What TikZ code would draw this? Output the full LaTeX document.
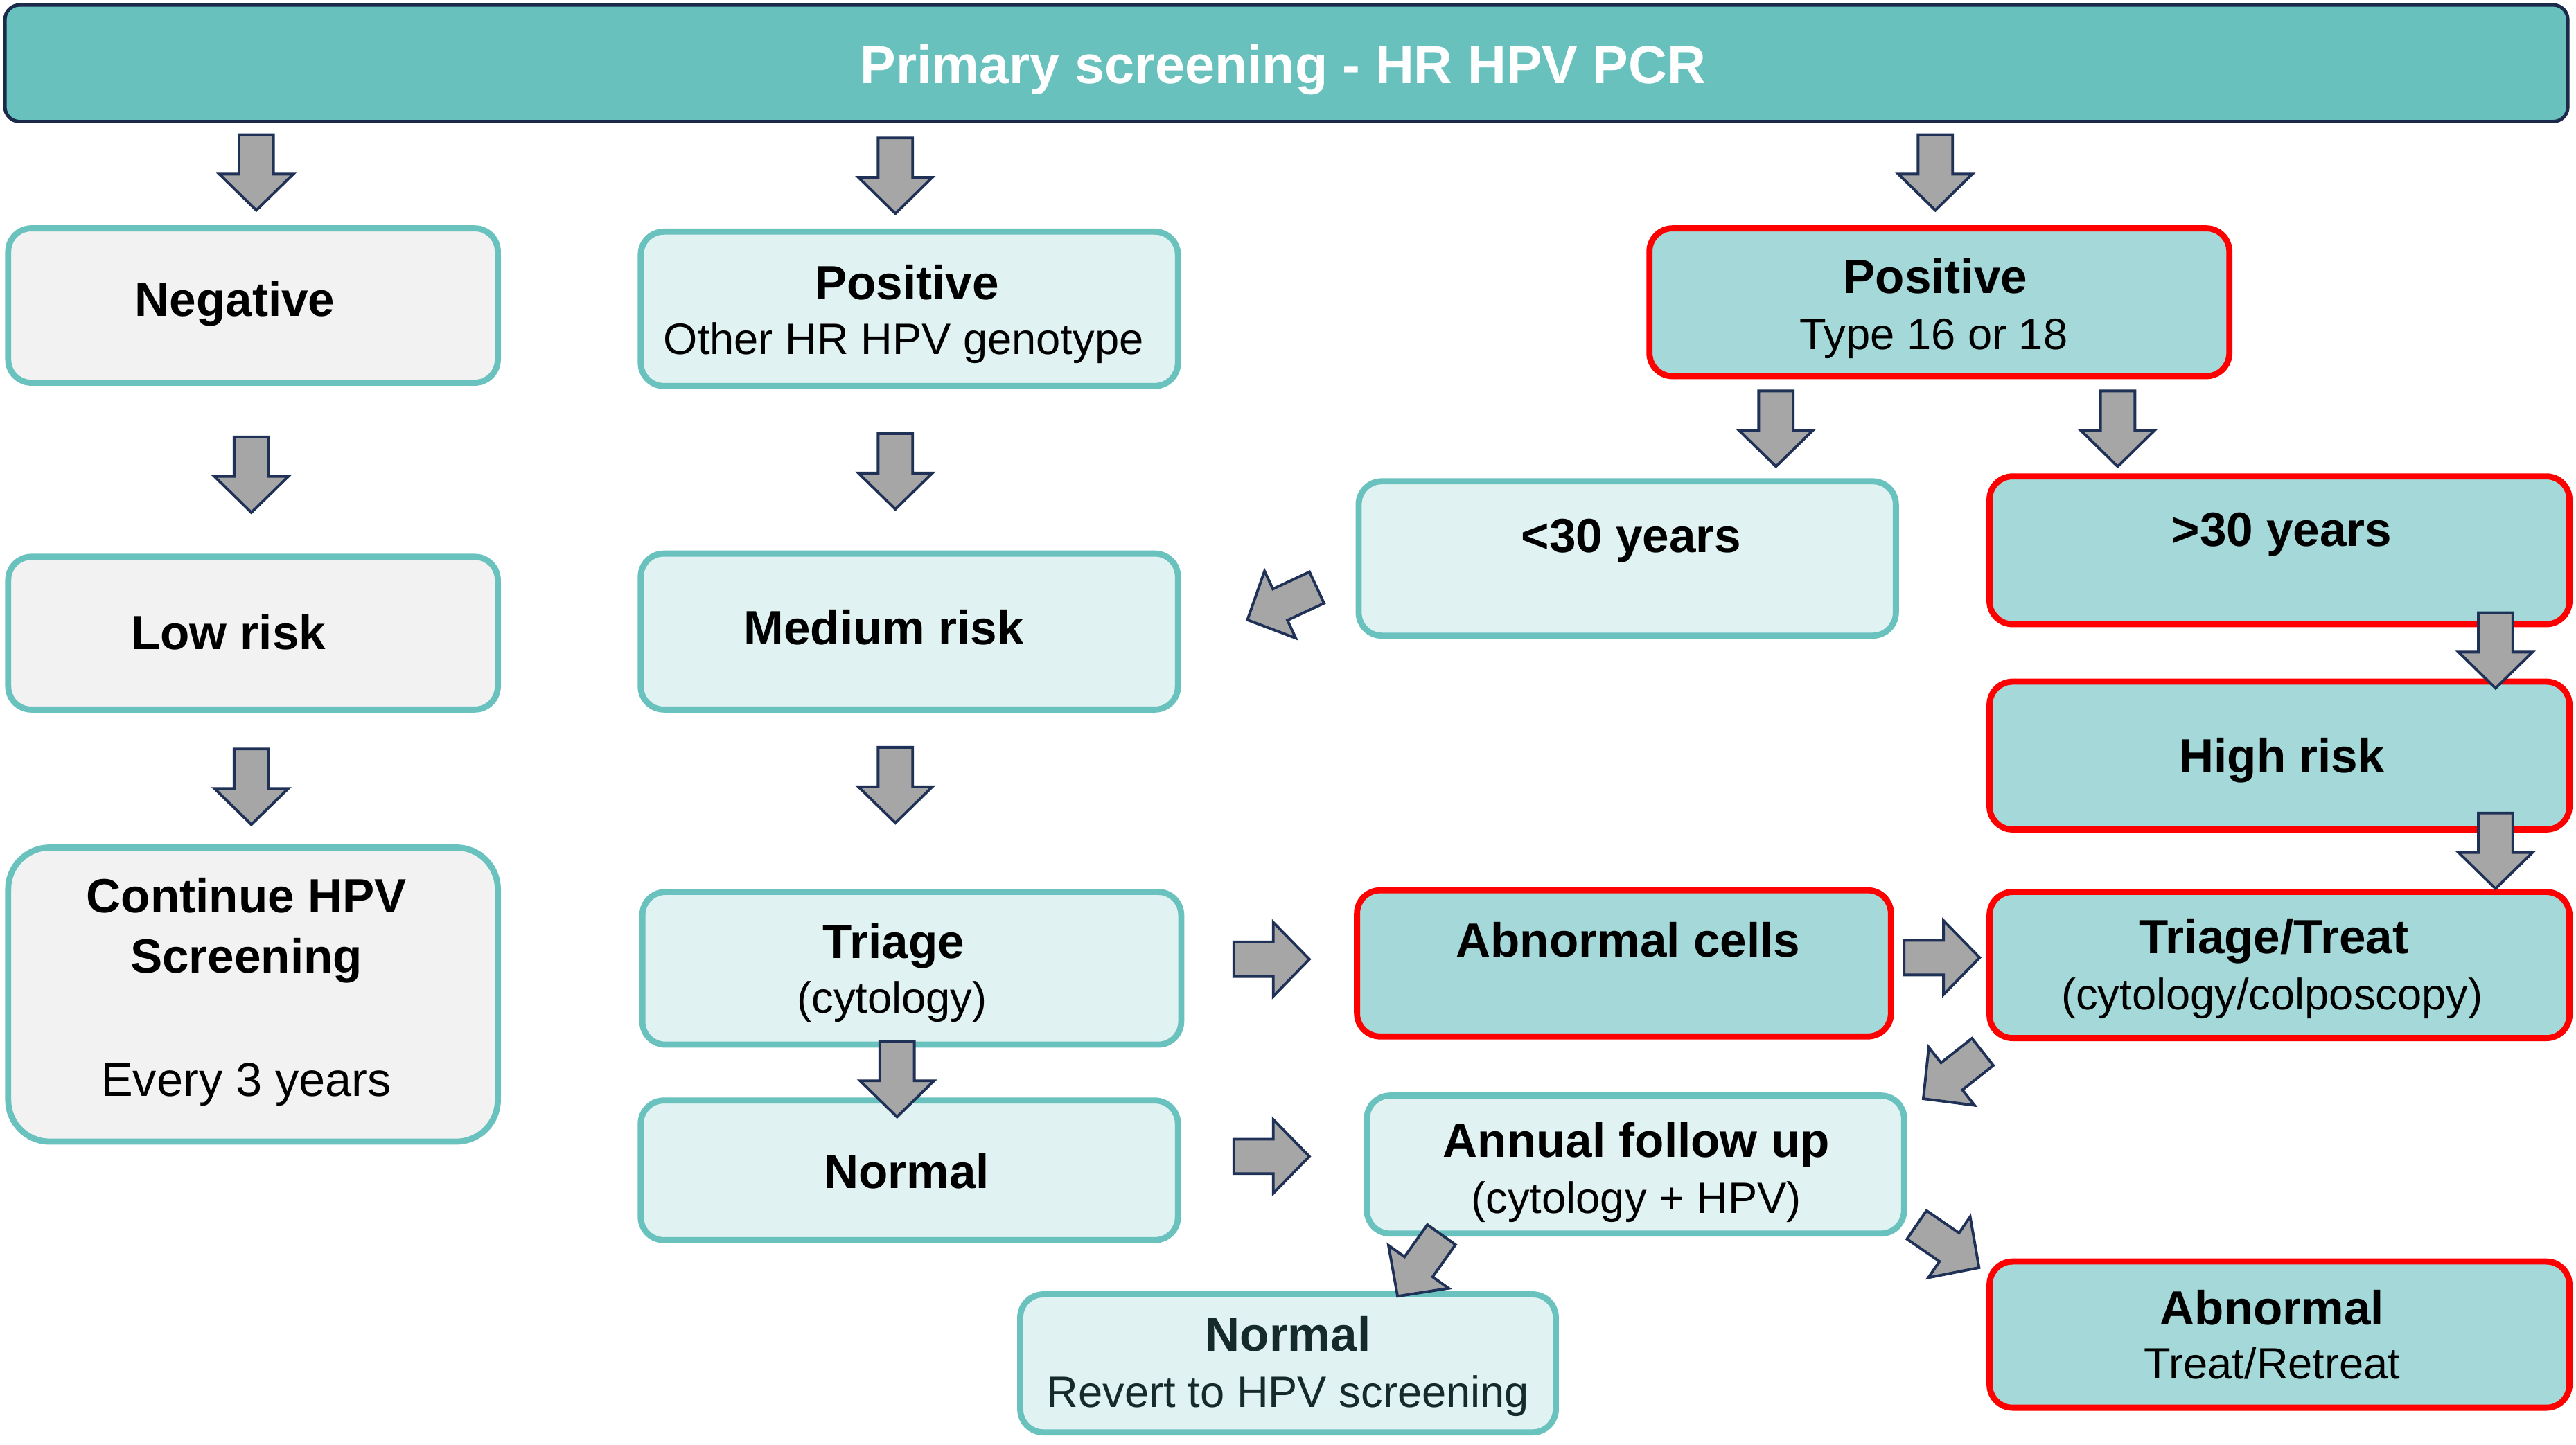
\documentclass[tikz,border=0pt]{standalone}
\usepackage{fontspec}
\setmainfont{Liberation Sans}
\usetikzlibrary{fit}
\definecolor{teal1}{HTML}{6AC2BF}
\definecolor{titlefill}{HTML}{69C1BE}
\definecolor{navy}{HTML}{1B2A4A}
\definecolor{grayfill}{HTML}{F2F2F2}
\definecolor{lightfill}{HTML}{E0F2F1}
\definecolor{midfill}{HTML}{A5D9D9}
\definecolor{redb}{HTML}{FF0000}
\definecolor{arrowfill}{HTML}{A6A6A6}
\definecolor{arrowline}{HTML}{1F3156}
\definecolor{darktext}{HTML}{152A2A}
\begin{document}
\begin{tikzpicture}[x=0.2371mm, y=-0.2371mm,
 boxbase/.style={inner sep=0pt, line width=2.5pt, rounded corners=9.5pt},
 graybox/.style={boxbase, draw=teal1, fill=grayfill},
 lightbox/.style={boxbase, draw=teal1, fill=lightfill},
 redbox/.style={boxbase, draw=redb, fill=midfill},
 titlebox/.style={inner sep=0pt, line width=1.4pt, draw=navy, fill=titlefill, rounded corners=6pt},
 bt/.style={inner sep=0pt, font=\fontsize{19.7pt}{23pt}\selectfont\bfseries, text height=14.1pt, text depth=0pt},
 rt/.style={inner sep=0pt, font=\fontsize{18pt}{22pt}\selectfont, text height=12.9pt, text depth=0pt},
 arrowsty/.style={fill=arrowfill, draw=arrowline, line width=1.1pt, line join=miter},
 pics/barrow/.style={code={\draw[arrowsty] (0,-10.5) -- (#1-22,-10.5) -- (#1-22,-22.5) -- (#1,0) -- (#1-22,22.5) -- (#1-22,10.5) -- (0,10.5) -- cycle;}}
]
\useasboundingbox (0,0) rectangle (1568,879.7);
\fill[white] (0,0) rectangle (1568,879.7);

% boxes
\node[titlebox, fit={(3,3) (1563,74)}] (title) {};
\node[graybox, fit={(5,139) (303,233)}] (neg) {};
\node[graybox, fit={(5,339) (303,432)}] (low) {};
\node[graybox, rounded corners=17pt, fit={(5,516) (303,695)}] (cont) {};
\node[lightbox, fit={(390,141) (717,235)}] (pos1) {};
\node[lightbox, fit={(390,337) (717,432)}] (med) {};
\node[lightbox, fit={(391,543) (719,636)}] (tri) {};
\node[lightbox, fit={(390,670) (717,755)}] (norm1) {};
\node[redbox, fit={(1004,139) (1357,229)}] (pos2) {};
\node[lightbox, fit={(827,293) (1154,387)}] (lt30) {};
\node[redbox, fit={(1211,290) (1564,380)}] (gt30) {};
\node[redbox, fit={(1211,415) (1564,505)}] (high) {};
\node[redbox, fit={(826,542) (1151,631)}] (abn) {};
\node[redbox, fit={(1211,543) (1564,632)}] (tt) {};
\node[lightbox, fit={(832,667) (1159,751)}] (ann) {};
\node[lightbox, fit={(621,788) (947,872)}] (norm2) {};
\node[redbox, fit={(1211,768) (1564,857)}] (abn2) {};

% arrows
\pic[rotate=-90] at (156,82) {barrow=46};
\pic[rotate=-90] at (545,84) {barrow=46};
\pic[rotate=-90] at (1178,82) {barrow=46};
\pic[rotate=-90] at (153,266) {barrow=46};
\pic[rotate=-90] at (545,264) {barrow=46};
\pic[rotate=-90] at (153,456) {barrow=46};
\pic[rotate=-90] at (545,455) {barrow=46};
\pic[rotate=-90] at (1081,238) {barrow=46};
\pic[rotate=-90] at (1289,238) {barrow=46};
\pic[rotate=-90] at (1519,373) {barrow=46};
\pic[rotate=-90] at (1519,495) {barrow=46};
\pic[rotate=-90] at (546,634) {barrow=46};
\pic at (751,584) {barrow=46};
\pic at (1159,583) {barrow=46};
\pic at (751,704) {barrow=46};
\pic[rotate=-155] at (801.5,357.7) {barrow=46.6};
\pic[rotate=-141.7] at (1206.8,640.4) {barrow=46};
\pic[rotate=-34.5] at (1166.7,745.7) {barrow=46};
\pic[rotate=-125.5] at (877.4,751.7) {barrow=46};

% texts
\node[inner sep=0pt, font=\fontsize{22pt}{26pt}\selectfont\bfseries, text=white, text height=15.8pt, text depth=0pt] (titleT) at (781,39) {Primary screening - HR HPV PCR};
\node[bt] (negT) at (143,182) {Negative};
\node[bt] (lowT) at (139,385) {Low risk};
\node[bt] (contT1) at (150,545) {Continue HPV};
\node[bt] (contT2) at (150,582) {Screening};
\node[rt, font=\fontsize{19.5pt}{23pt}\selectfont, text height=14pt] (contT3) at (150,657) {Every 3 years};
\node[bt] (pos1T1) at (552,172) {Positive};
\node[rt] (pos1T2) at (550,206) {Other HR HPV genotype};
\node[bt] (medT) at (538,382) {Medium risk};
\node[bt] (triT1) at (544,573) {Triage};
\node[rt] (triT2) at (543,607) {(cytology)};
\node[bt] (norm1T) at (552,713) {Normal};
\node[bt] (pos2T1) at (1178,168) {Positive};
\node[rt] (pos2T2) at (1177,203) {Type 16 or 18};
\node[bt] (lt30T) at (993,326) {<30 years};
\node[bt] (gt30T) at (1389,322) {>30 years};
\node[bt] (highT) at (1389,460) {High risk};
\node[bt] (abnT) at (991,572) {Abnormal cells};
\node[bt] (ttT1) at (1384,570) {Triage/Treat};
\node[rt] (ttT2) at (1383,605) {(cytology/colposcopy)};
\node[bt] (annT1) at (996,694) {Annual follow up};
\node[rt] (annT2) at (996,729) {(cytology + HPV)};
\node[bt, text=darktext] (norm2T1) at (784,812) {Normal};
\node[rt, text=darktext] (norm2T2) at (784,847) {Revert to HPV screening};
\node[bt] (abn2T1) at (1383,796) {Abnormal};
\node[rt] (abn2T2) at (1383,830) {Treat/Retreat};
\end{tikzpicture}
\end{document}
